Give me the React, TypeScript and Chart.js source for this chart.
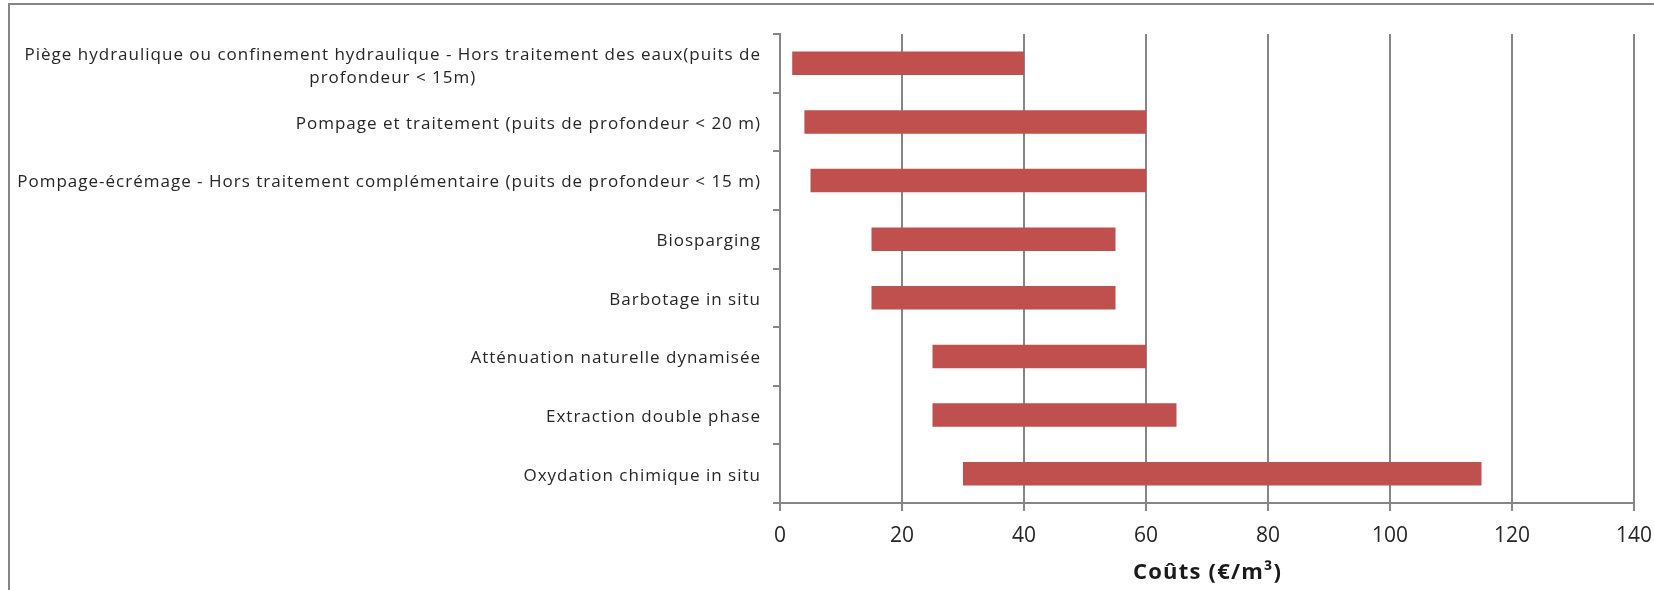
import React, { useEffect, useRef } from "react";
import { Chart, registerables } from "chart.js";

Chart.register(...registerables);

const categories: (string | string[])[] = [
  [
    "Piège hydraulique ou confinement hydraulique - Hors traitement des eaux(puits de",
    "profondeur < 15m)",
  ],
  "Pompage et traitement (puits de profondeur < 20 m)",
  "Pompage-écrémage - Hors traitement complémentaire (puits de profondeur < 15 m)",
  "Biosparging",
  "Barbotage in situ",
  "Atténuation naturelle dynamisée",
  "Extraction double phase",
  "Oxydation chimique in situ",
];
const costMin = [2, 4, 5, 15, 15, 25, 25, 30];
const costMax = [40, 60, 60, 55, 55, 60, 65, 115];
const xTicks = [0, 20, 40, 60, 80, 100, 120, 140];
const axisTitle = "Coûts (€/m³)";

const FONT = "'Open Sans', Lato, sans-serif";
const GRID = "#868686";
const LS = 1.0;
const TLS = 1.2;

export default function App() {
  const ref = useRef<HTMLCanvasElement | null>(null);
  useEffect(() => {
    document.body.style.margin = "0";
    const canvas = ref.current!;
    const labelsPlugin = {
      id: "yLabels",
      beforeDraw(chart: any) {
        const ctx = chart.ctx;
        ctx.save();
        ctx.strokeStyle = GRID;
        ctx.lineWidth = 2;
        ctx.beginPath();
        ctx.moveTo(9, 700);
        ctx.lineTo(9, 4);
        ctx.lineTo(1800, 4);
        ctx.stroke();
        ctx.restore();
      },
      afterDraw(chart: any) {
        const ctx = chart.ctx;
        const ys = chart.scales.y;
        const ca = chart.chartArea;
        ctx.save();
        ctx.font = "17px " + FONT;
        (ctx as any).letterSpacing = LS + "px";
        ctx.fillStyle = "#262626";
        ctx.textBaseline = "middle";
        ctx.textAlign = "left";
        const right = 760;
        const lh = 23;
        categories.forEach((lab, i) => {
          const lines = Array.isArray(lab) ? lab : [lab];
          const widths = lines.map((l) => ctx.measureText(l).width - LS);
          const w = Math.max(...widths);
          const left = right - w;
          const yc = ys.getPixelForValue(i) + 2;
          const y0 = yc - ((lines.length - 1) * lh) / 2 + (lines.length > 1 ? 1 : 0);
          lines.forEach((l, k) => ctx.fillText(l, left + (w - widths[k]) / 2, y0 + k * lh));
        });
        // axis title
        ctx.font = "bold 22px " + FONT;
        (ctx as any).letterSpacing = TLS + "px";
        ctx.fillStyle = "#1a1a1a";
        const tw = ctx.measureText(axisTitle).width - TLS;
        ctx.fillText(axisTitle, (ca.left + ca.right) / 2 - tw / 2, 573);
        ctx.restore();
      },
    };
    const chart = new Chart(canvas, {
      type: "bar",
      data: {
        labels: categories.map((c) => (Array.isArray(c) ? c.join(" ") : c)),
        datasets: [
          {
            data: costMin.map((v, i) => [v, costMax[i]]) as any,
            backgroundColor: "#C0504D",
            borderWidth: 0,
            categoryPercentage: 1,
            barPercentage: 0.4,
          },
        ],
      },
      options: {
        indexAxis: "y",
        responsive: false,
        animation: false,
        layout: { padding: { top: 34, right: 20, left: 0, bottom: 0 } },
        plugins: { legend: { display: false }, tooltip: { enabled: false } },
        scales: {
          x: {
            type: "linear",
            position: "bottom",
            min: 0,
            max: 140,
            afterBuildTicks: (s: any) => {
              s.ticks = xTicks.map((v) => ({ value: v }));
            },
            afterFit: (s: any) => {
              s.height = 87;
              s.paddingRight = 0;
              s.paddingLeft = 0;
            },
            grid: { color: GRID, lineWidth: 2, tickLength: 8, drawTicks: true },
            border: { color: GRID, width: 2 },
            ticks: {
              font: { family: FONT, size: 21 },
              color: "#262626",
              padding: 12,
              maxRotation: 0,
            },
            title: { display: false },
          },
          y: {
            type: "category",
            afterFit: (s: any) => {
              s.width = 780;
              s.paddingTop = 0;
              s.paddingBottom = 0;
            },
            grid: {
              offset: true,
              drawOnChartArea: false,
              drawTicks: true,
              tickLength: 7,
              color: GRID,
              lineWidth: 2,
            },
            border: { color: GRID, width: 2 },
            ticks: { display: false },
          },
        },
      },
      plugins: [labelsPlugin],
    } as any);
    return () => chart.destroy();
  }, []);
  return (
    <div style={{ width: 1654, height: 590 }}>
      <canvas ref={ref} width={1654} height={590} style={{ display: "block" }} />
    </div>
  );
}
